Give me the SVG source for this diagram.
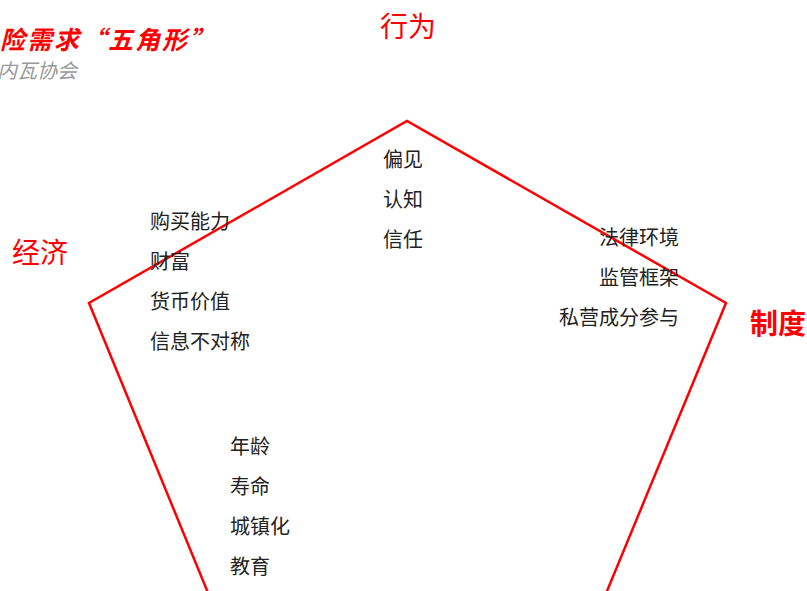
<svg xmlns="http://www.w3.org/2000/svg" width="807" height="591" viewBox="0 0 807 591">
<style>
.t{font-family:"Noto Sans CJK SC","Liberation Sans",sans-serif;font-size:20px;fill:#222;}
.r{font-family:"Noto Sans CJK SC","Liberation Sans",sans-serif;font-size:28px;fill:#ff0000;}
</style>
<rect width="807" height="591" fill="#fff"/>
<g id="title">
<text x="0" y="49" font-family="'Noto Sans CJK SC',sans-serif" font-size="25" font-weight="bold" font-style="italic" letter-spacing="2" fill="#ff0000">险需求“五角形”</text>
<text x="-3" y="78" font-family="'Noto Sans CJK SC',sans-serif" font-size="20" font-style="italic" fill="#999999">内瓦协会</text>
</g>
<g id="connectors">
<polyline points="252,700 89,303 407,121 726,303 562,700" fill="none" stroke="#ff0000" stroke-width="2.5"/>
</g>
<g id="behavior">
<text class="r" x="380" y="37">行为</text>
<text class="t" x="383" y="167">偏见</text>
<text class="t" x="383" y="207">认知</text>
<text class="t" x="383" y="247">信任</text>
</g>
<g id="economy">
<text class="r" x="12" y="263">经济</text>
<text class="t" x="150" y="229">购买能力</text>
<text class="t" x="150" y="269">财富</text>
<text class="t" x="150" y="309">货币价值</text>
<text class="t" x="150" y="349">信息不对称</text>
</g>
<g id="institution">
<text class="r" x="750" y="334" font-weight="bold">制度</text>
<text class="t" x="679" y="245" text-anchor="end">法律环境</text>
<text class="t" x="679" y="285" text-anchor="end">监管框架</text>
<text class="t" x="679" y="325" text-anchor="end">私营成分参与</text>
</g>
<g id="demography">
<text class="t" x="230" y="454">年龄</text>
<text class="t" x="230" y="494">寿命</text>
<text class="t" x="230" y="534">城镇化</text>
<text class="t" x="230" y="574">教育</text>
</g>
</svg>
